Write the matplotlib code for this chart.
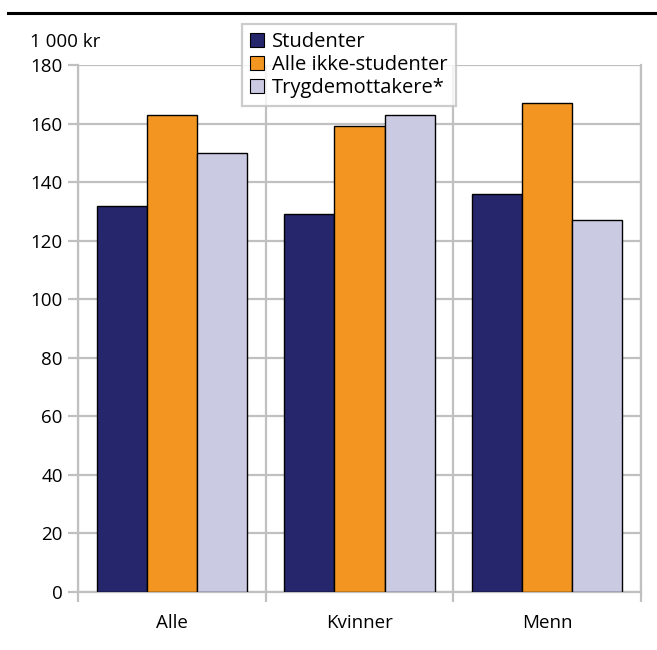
import numpy as np
import matplotlib.pyplot as plt
from matplotlib.lines import Line2D

# data (1 000 kr)
groups = ["Alle", "Kvinner", "Menn"]
series_names = ["Studenter", "Alle ikke-studenter", "Trygdemottakere*"]
studenter = [132, 129, 136]
ikke_studenter = [163, 159, 167]
trygd = [150, 163, 127]
y_ticks = [0, 20, 40, 60, 80, 100, 120, 140, 160, 180]

colors = ["#25266b", "#f39621", "#cbcae3"]
grid_col = "#c0c0c0"

plt.rcParams['font.family'] = ['Open Sans', 'DejaVu Sans']

fig = plt.figure(figsize=(6.57, 6.5), dpi=100)
ax = fig.add_axes([78 / 657, 1 - 592 / 650, (641 - 78) / 657, (592 - 65) / 650])

x = np.arange(len(groups))
w = 0.8 / 3
handles = []
for i, (vals, name) in enumerate(zip([studenter, ikke_studenter, trygd], series_names)):
    ax.bar(x + (i - 1) * w, vals, width=w, color=colors[i], edgecolor="black",
           linewidth=1.0, zorder=3)
    handles.append(Line2D([], [], marker="s", linestyle="none", markersize=10,
                          markerfacecolor=colors[i], markeredgecolor="black",
                          markeredgewidth=0.8, label=name))

ax.set_xlim(-0.5, 2.5)
ax.set_ylim(0, 180)
ax.set_yticks(y_ticks)
ax.set_xticks(x)
ax.set_xticklabels(groups)
ax.set_xticks([-0.5, 0.5, 1.5, 2.5], minor=True)

ax.grid(axis="y", color=grid_col, linewidth=1.6, zorder=0)
ax.grid(axis="x", which="minor", color=grid_col, linewidth=1.6, zorder=0)
for s in ax.spines.values():
    s.set_color(grid_col)
    s.set_linewidth(1.6)
ax.spines["top"].set_visible(False)

ax.tick_params(axis="y", length=7, width=1.6, color=grid_col, labelsize=13.5, pad=4)
ax.tick_params(axis="x", which="major", length=0, labelsize=13.5, pad=16)
ax.tick_params(axis="x", which="minor", length=7, width=1.6, color=grid_col)

fig.text(30 / 657, 1 - 42 / 650, "1 000 kr", fontsize=13.5, va="center", ha="left")

leg = ax.legend(handles=handles, loc="upper left",
                bbox_to_anchor=((242 - 78) / (641 - 78), 1 + (65 - 24) / (592 - 65)),
                fontsize=14.5, frameon=True, fancybox=False, borderpad=0.4,
                handlelength=0.7, handletextpad=0.4, labelspacing=0.15,
                borderaxespad=0)
leg.get_frame().set_edgecolor(grid_col)
leg.get_frame().set_linewidth(1.6)
leg.set_zorder(5)

# black rule at the top of the figure
fig.add_artist(Line2D([8 / 657, 1], [1 - 13 / 650, 1 - 13 / 650], color="black",
                      linewidth=2.2, transform=fig.transFigure))

fig.savefig("out.png", dpi=100)
